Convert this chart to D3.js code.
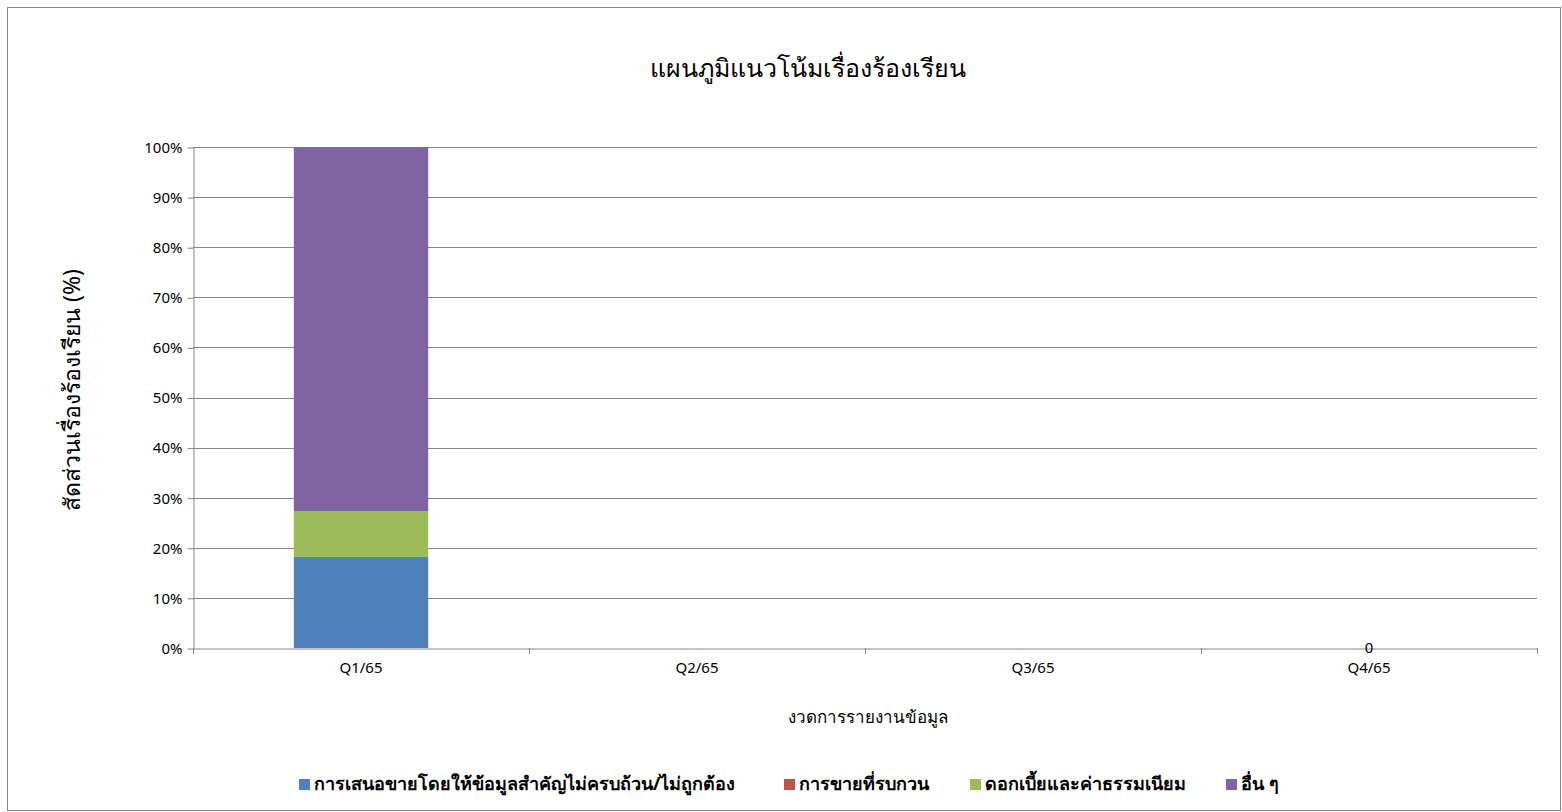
<!DOCTYPE html>
<html lang="th">
<head>
<meta charset="UTF-8"/>
<title>แผนภูมิแนวโน้มเรื่องร้องเรียน</title>
<script src="https://d3js.org/d3.v7.min.js"></script>
<style>
  body { margin: 0; background: #fff; }
  text { font-family: "Noto Sans", "DejaVu Sans", sans-serif; }
</style>
</head>
<body>
<script>
    var w = 1562;
    var h = 812;

    // data
    var quarters = ["Q1/65", "Q2/65", "Q3/65", "Q4/65"];
    var seriesNames = ["การเสนอขายโดยให้ข้อมูลสำคัญไม่ครบถ้วน/ไม่ถูกต้อง", "การขายที่รบกวน", "ดอกเบี้ยและค่าธรรมเนียม", "อื่น ๆ"];
    var seriesColors = ["#4F81BD", "#C0504D", "#9BBB59", "#8064A2"];
    var misleading = [0.1818, null, null, 0];
    var harassing = [0, null, null, null];
    var feesInterest = [0.0909, null, null, null];
    var others = [0.7273, null, null, null];
    var yTicks = [0, 0.1, 0.2, 0.3, 0.4, 0.5, 0.6, 0.7, 0.8, 0.9, 1];

    var allSeries = [misleading, harassing, feesInterest, others];

    var plotLeft = 193, plotRight = 1537, plotTop = 147, plotBottom = 648;

    var svg = d3.select("body").append("svg")
        .attr("width", w).attr("height", h);

    svg.append("rect")
        .attr("x", 7.5).attr("y", 7.5)
        .attr("width", w - 9).attr("height", h - 9)
        .attr("fill", "#fff").attr("stroke", "#868686").attr("stroke-width", 1);

    var xScale = d3.scaleBand().domain(quarters).range([plotLeft, plotRight]).padding(0);
    var yScale = d3.scaleLinear().domain([0, 1]).range([plotBottom, plotTop]);

    // gridlines
    svg.append("g").selectAll("line")
        .data(yTicks.slice(1))
        .enter().append("line")
        .attr("x1", plotLeft).attr("x2", plotRight)
        .attr("y1", function(d) { return Math.round(yScale(d)) + 0.5; })
        .attr("y2", function(d) { return Math.round(yScale(d)) + 0.5; })
        .attr("stroke", "#868686").attr("stroke-width", 1);

    // stacked bars
    var stackData = quarters.map(function(q, i) {
        var row = { q: q };
        allSeries.forEach(function(s, j) { row["s" + j] = s[i] || 0; });
        return row;
    });
    var stack = d3.stack().keys(["s0", "s1", "s2", "s3"]);
    var layers = stack(stackData);
    var barW = xScale.bandwidth() * 0.4;

    svg.append("g").selectAll("g")
        .data(layers)
        .enter().append("g")
        .attr("fill", function(d, i) { return seriesColors[i]; })
        .selectAll("rect")
        .data(function(d) { return d; })
        .enter().append("rect")
        .attr("x", function(d) { return xScale(d.data.q) + (xScale.bandwidth() - barW) / 2; })
        .attr("y", function(d) { return yScale(d[1]); })
        .attr("width", barW)
        .attr("height", function(d) { return yScale(d[0]) - yScale(d[1]); });

    // y axis
    var yAxis = d3.axisLeft(yScale)
        .tickValues(yTicks)
        .tickFormat(d3.format(".0%"))
        .tickSize(6)
        .tickSizeOuter(0);
    var gy = svg.append("g")
        .attr("transform", "translate(" + (plotLeft + 0.5) + ",0.5)")
        .call(yAxis);
    gy.select(".domain").attr("stroke", "#868686");
    gy.selectAll(".tick line").attr("stroke", "#868686");
    gy.selectAll(".tick text")
        .attr("font-size", "15px").attr("fill", "#000")
        .attr("font-family", "'Open Sans', sans-serif")
        .attr("x", -11);

    // x axis
    var xAxis = d3.axisBottom(xScale).tickSize(0).tickSizeOuter(0);
    var gx = svg.append("g")
        .attr("transform", "translate(0," + (plotBottom + 0.5) + ")")
        .call(xAxis);
    gx.select(".domain").attr("stroke", "#868686");
    gx.selectAll(".tick text")
        .attr("font-size", "15px").attr("fill", "#000")
        .attr("font-family", "'Open Sans', sans-serif")
        .attr("y", 14)
        .attr("dy", "0.71em");
    // tick marks between categories
    svg.append("g").selectAll("line")
        .data(quarters.concat(["end"]))
        .enter().append("line")
        .attr("x1", function(d, i) { return Math.round(plotLeft + i * xScale.step()) + 0.5; })
        .attr("x2", function(d, i) { return Math.round(plotLeft + i * xScale.step()) + 0.5; })
        .attr("y1", plotBottom).attr("y2", plotBottom + 6)
        .attr("stroke", "#868686");

    // data label "0" on Q4
    svg.append("g").selectAll("text")
        .data(misleading.map(function(v, i) { return { v: v, q: quarters[i] }; })
            .filter(function(d) { return d.v === 0; }))
        .enter().append("text")
        .attr("x", function(d) { return xScale(d.q) + xScale.bandwidth() / 2; })
        .attr("y", function(d) { return yScale(d.v) + 5; })
        .attr("text-anchor", "middle")
        .attr("font-size", "15px")
        .attr("font-family", "'Open Sans', sans-serif")
        .text(function(d) { return d.v; });

    // titles
    svg.append("text")
        .attr("x", 808).attr("y", 77)
        .attr("text-anchor", "middle")
        .attr("font-size", "25px")
        .text("แผนภูมิแนวโน้มเรื่องร้องเรียน");

    svg.append("text")
        .attr("transform", "rotate(-90)")
        .attr("x", -390).attr("y", 80)
        .attr("text-anchor", "middle")
        .attr("font-size", "23px")
        .text("สัดส่วนเรื่องร้องเรียน (%)");

    svg.append("text")
        .attr("x", 868).attr("y", 723)
        .attr("text-anchor", "middle")
        .attr("font-size", "17px")
        .text("งวดการรายงานข้อมูล");

    // legend
    var legendX = [299, 784, 970, 1226];
    var legend = svg.append("g").selectAll("g")
        .data(seriesNames)
        .enter().append("g")
        .attr("transform", function(d, i) { return "translate(" + legendX[i] + ",779)"; });
    legend.append("rect")
        .attr("width", 11).attr("height", 11)
        .attr("fill", function(d, i) { return seriesColors[i]; });
    legend.append("text")
        .attr("x", 15).attr("y", 11)
        .attr("font-size", "18px")
        .attr("font-weight", "bold")
        .text(function(d) { return d; });
</script>
</body>
</html>
